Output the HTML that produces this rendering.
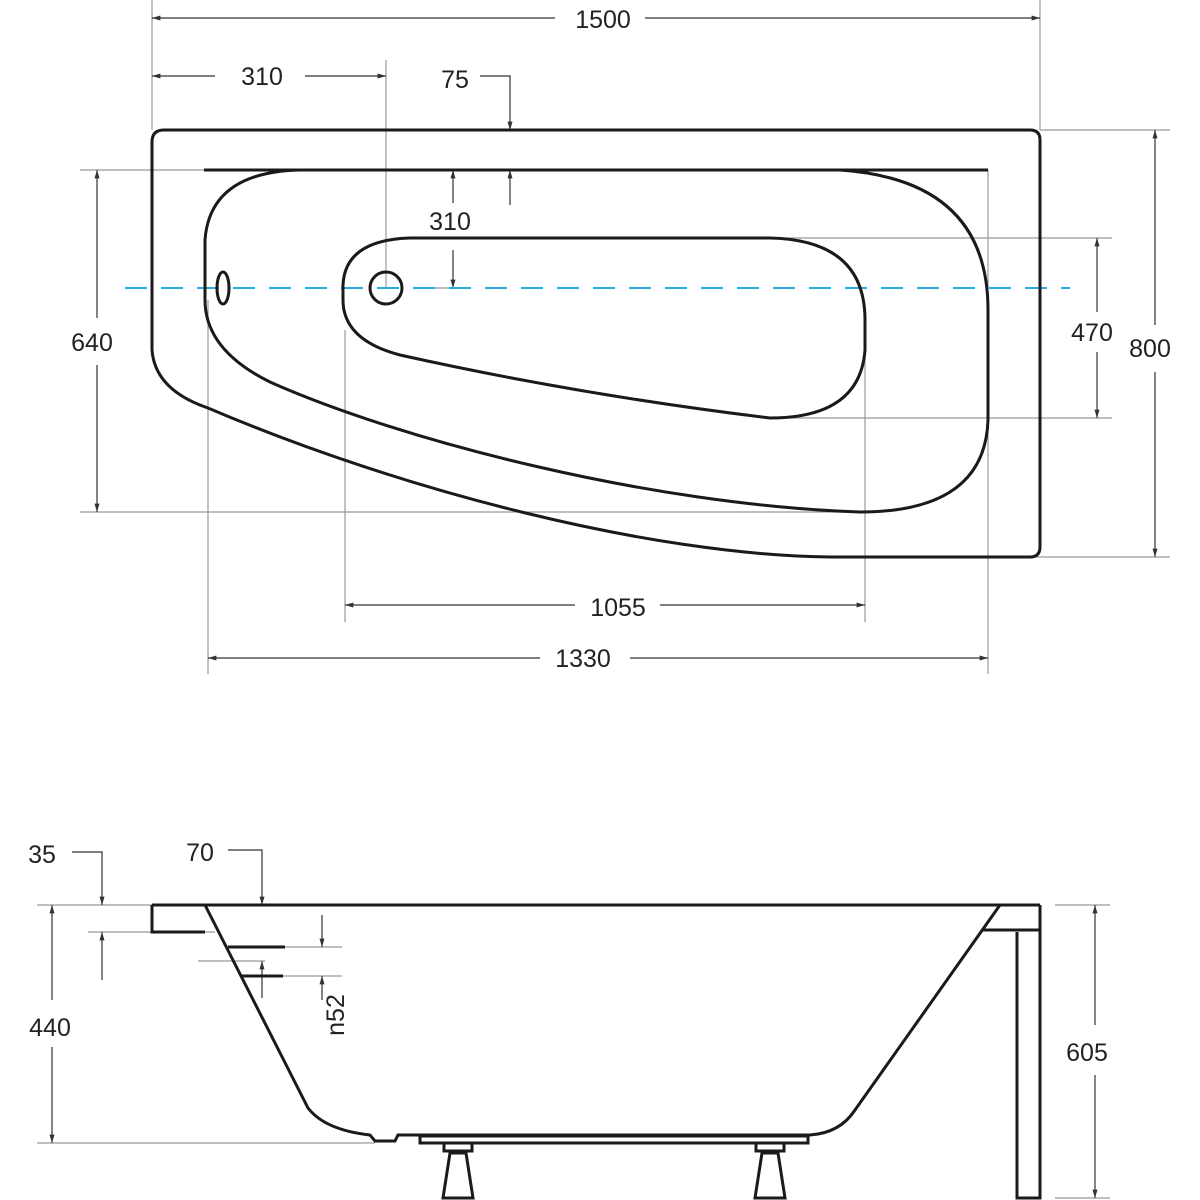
<!DOCTYPE html>
<html><head><meta charset="utf-8"><style>body{margin:0;background:#fff}svg{display:block}text{font-family:"Liberation Sans",sans-serif;font-size:25px;fill:#222}</style></head>
<body>
<svg width="1200" height="1200" viewBox="0 0 1200 1200" xmlns="http://www.w3.org/2000/svg">
<defs>
<marker id="a" viewBox="0 0 10 10" refX="10" refY="5" markerWidth="7" markerHeight="7" orient="auto-start-reverse"><path d="M0,2 L10,5 L0,8z" fill="#333"/></marker>
</defs>
<g stroke="#999" stroke-width="1.2" fill="none">
<line x1="152" y1="0" x2="152" y2="130"/><line x1="1040" y1="0" x2="1040" y2="130"/>
<line x1="386" y1="60" x2="386" y2="288"/>
<line x1="80" y1="170" x2="204" y2="170"/><line x1="80" y1="512" x2="860" y2="512"/>
<line x1="770" y1="238" x2="1112" y2="238"/><line x1="780" y1="418" x2="1112" y2="418"/>
<line x1="1040" y1="130" x2="1170" y2="130"/><line x1="1030" y1="557" x2="1170" y2="557"/>
<line x1="345" y1="330" x2="345" y2="622"/><line x1="865" y1="330" x2="865" y2="622"/>
<line x1="208" y1="300" x2="208" y2="674"/><line x1="988" y1="170" x2="988" y2="674"/>
<line x1="430" y1="288" x2="470" y2="288"/>
<line x1="37" y1="905" x2="152" y2="905"/><line x1="37" y1="1143" x2="375" y2="1143"/>
<line x1="88" y1="932" x2="215" y2="932"/>
<line x1="198" y1="961" x2="265" y2="961"/>
<line x1="285" y1="947" x2="342" y2="947"/><line x1="283" y1="976" x2="342" y2="976"/>
<line x1="1055" y1="905" x2="1110" y2="905"/><line x1="1055" y1="1198" x2="1110" y2="1198"/>
</g>
<g stroke="#333" stroke-width="1.2" fill="none">
<line x1="152" y1="18" x2="555" y2="18" marker-start="url(#a)"/><line x1="645" y1="18" x2="1040" y2="18" marker-end="url(#a)"/>
<line x1="152" y1="76" x2="215" y2="76" marker-start="url(#a)"/><line x1="305" y1="76" x2="386" y2="76" marker-end="url(#a)"/>
<polyline points="480,76 510,76 510,130" marker-end="url(#a)"/>
<line x1="510" y1="205" x2="510" y2="170" marker-end="url(#a)"/>
<line x1="453" y1="203" x2="453" y2="170" marker-end="url(#a)"/>
<line x1="453" y1="250" x2="453" y2="288" marker-end="url(#a)"/>
<line x1="97" y1="318" x2="97" y2="170" marker-end="url(#a)"/><line x1="97" y1="365" x2="97" y2="512" marker-end="url(#a)"/>
<line x1="1097" y1="312" x2="1097" y2="238" marker-end="url(#a)"/><line x1="1097" y1="352" x2="1097" y2="418" marker-end="url(#a)"/>
<line x1="1155" y1="325" x2="1155" y2="130" marker-end="url(#a)"/><line x1="1155" y1="372" x2="1155" y2="557" marker-end="url(#a)"/>
<line x1="575" y1="605" x2="345" y2="605" marker-end="url(#a)"/><line x1="660" y1="605" x2="865" y2="605" marker-end="url(#a)"/>
<line x1="540" y1="658" x2="208" y2="658" marker-end="url(#a)"/><line x1="630" y1="658" x2="988" y2="658" marker-end="url(#a)"/>
<polyline points="72,852 102,852 102,905" marker-end="url(#a)"/>
<polyline points="228,850 262,850 262,905" marker-end="url(#a)"/>
<line x1="102" y1="980" x2="102" y2="932" marker-end="url(#a)"/>
<line x1="52" y1="1000" x2="52" y2="905" marker-end="url(#a)"/><line x1="52" y1="1047" x2="52" y2="1143" marker-end="url(#a)"/>
<line x1="322" y1="915" x2="322" y2="947" marker-end="url(#a)"/>
<line x1="322" y1="1000" x2="322" y2="976" marker-end="url(#a)"/>
<line x1="262" y1="998" x2="262" y2="961" marker-end="url(#a)"/>
<line x1="1095" y1="1025" x2="1095" y2="905" marker-end="url(#a)"/><line x1="1095" y1="1075" x2="1095" y2="1198" marker-end="url(#a)"/>
</g>
<line x1="125" y1="288" x2="1070" y2="288" stroke="#29a9e0" stroke-width="2" stroke-dasharray="22,14"/>
<g stroke="#1a1a1a" stroke-width="3" fill="none">
<path d="M164,130 H1030 Q1040,130 1040,140 V547 Q1040,557 1030,557 H830 C650,555 400,490 208,408 Q155,390 152,350 V142 Q152,130 164,130Z"/>
<line x1="204" y1="170" x2="988" y2="170"/>
<path d="M300,170 H840 Q988,180 988,310 V420 Q985,512 860,512 C650,505 400,440 270,382 Q205,350 205,300 V240 Q210,172 300,170Z"/>
<path d="M410,238 H770 Q865,240 865,320 V350 Q860,418 770,418 Q580,395 400,355 Q343,340 343,300 V285 Q345,240 410,238Z"/>
<circle cx="386" cy="288" r="16"/>
<ellipse cx="223" cy="288" rx="6" ry="16"/>
<line x1="152" y1="905" x2="1040" y2="905"/>
<polyline points="205,932 152,932 152,905"/>
<path d="M205,905 L308,1108 Q325,1130 370,1135 L375,1141 H395 L398,1135 H810 Q840,1133 855,1110 L1000,905"/>
<polyline points="983,930 1040,930"/>
<polyline points="1040,905 1040,1198 1017,1198 1017,932"/>
<rect x="420" y="1136" width="388" height="7"/>
<rect x="444" y="1143" width="28" height="8"/><path d="M450,1153 H466 L473,1198 H443Z"/>
<rect x="756" y="1143" width="28" height="8"/><path d="M762,1153 H778 L785,1198 H755Z"/>
<line x1="228" y1="947" x2="285" y2="947"/><line x1="240" y1="976" x2="283" y2="976"/>
</g>
<text x="603" y="28" text-anchor="middle">1500</text>
<text x="262" y="85" text-anchor="middle">310</text>
<text x="455" y="88" text-anchor="middle">75</text>
<text x="450" y="230" text-anchor="middle">310</text>
<text x="92" y="351" text-anchor="middle">640</text>
<text x="1092" y="341" text-anchor="middle">470</text>
<text x="1150" y="357" text-anchor="middle">800</text>
<text x="618" y="616" text-anchor="middle">1055</text>
<text x="583" y="667" text-anchor="middle">1330</text>
<text x="42" y="863" text-anchor="middle">35</text>
<text x="200" y="861" text-anchor="middle">70</text>
<text x="50" y="1036" text-anchor="middle">440</text>
<text x="1087" y="1061" text-anchor="middle">605</text>
<text transform="translate(344,1015) rotate(-90)" text-anchor="middle">n52</text>
</svg>
</body></html>
